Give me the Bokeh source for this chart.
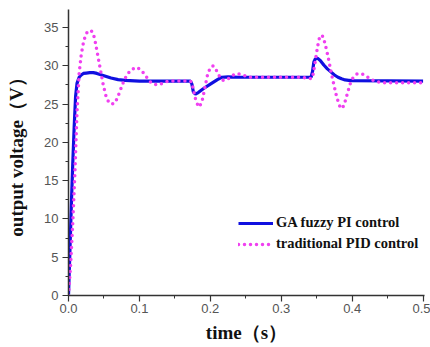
from bokeh.plotting import figure
from bokeh.models import Range1d, SingleIntervalTicker, NumeralTickFormatter, Legend, LegendItem
from bokeh.embed import file_html
from bokeh.resources import INLINE

# GA fuzzy PI control
t_ga = [0, 0.002, 0.004, 0.006, 0.008, 0.010, 0.012, 0.015, 0.018, 0.021, 0.025, 0.030,
        0.035, 0.040, 0.050, 0.060, 0.070, 0.080, 0.100, 0.172, 0.174, 0.176, 0.179,
        0.183, 0.190, 0.200, 0.210, 0.216, 0.225, 0.240, 0.342, 0.344, 0.346, 0.348,
        0.351, 0.355, 0.360, 0.365, 0.370, 0.375, 0.380, 0.385, 0.390, 0.395, 0.400, 0.500]
v_ga = [0, 5.8, 11.8, 17.2, 22.0, 26.0, 27.7, 28.5, 28.8, 29.0, 29.05, 29.1,
        29.1, 29.0, 28.7, 28.4, 28.2, 28.1, 28.0, 28.0, 27.6, 26.6, 26.3,
        26.5, 27.0, 27.6, 28.2, 28.5, 28.55, 28.5, 28.5, 29.2, 30.5, 30.9,
        31.0, 30.7, 30.1, 29.6, 29.2, 28.8, 28.5, 28.3, 28.15, 28.1, 28.05, 28.0]

# traditional PID control
t_pid = [0, 0.003, 0.006, 0.009, 0.012, 0.015, 0.018, 0.021, 0.024, 0.027, 0.032, 0.035,
         0.038, 0.041, 0.045, 0.049, 0.053, 0.057, 0.061, 0.065, 0.069, 0.073, 0.078,
         0.083, 0.089, 0.095, 0.102, 0.108, 0.114, 0.120, 0.126, 0.132, 0.140, 0.172,
         0.174, 0.177, 0.180, 0.184, 0.188, 0.192, 0.196, 0.200, 0.204, 0.208, 0.213,
         0.218, 0.224, 0.230, 0.238, 0.246, 0.255, 0.330, 0.340, 0.344, 0.347, 0.350,
         0.353, 0.356, 0.359, 0.362, 0.366, 0.370, 0.374, 0.378, 0.382, 0.386, 0.389,
         0.393, 0.397, 0.401, 0.406, 0.412, 0.418, 0.425, 0.432, 0.440, 0.500]
v_pid = [0, 4.0, 9.5, 16.0, 24.0, 29.0, 31.5, 33.0, 34.0, 34.5, 34.6, 34.2,
         33.0, 31.5, 29.5, 27.5, 26.0, 25.2, 25.0, 25.1, 25.8, 26.8, 28.0,
         28.9, 29.5, 29.8, 29.5, 28.8, 28.0, 27.6, 27.5, 27.7, 28.0, 28.0,
         27.8, 26.5, 25.3, 24.6, 25.2, 27.0, 28.8, 29.8, 30.0, 29.5, 28.6,
         28.1, 28.2, 28.7, 29.0, 28.8, 28.5, 28.5, 28.3, 28.4, 30.0, 31.8,
         33.4, 34.0, 33.8, 32.8, 31.2, 29.3, 27.6, 26.0, 24.8, 24.4, 25.0,
         26.3, 27.6, 28.4, 28.9, 29.0, 28.8, 28.3, 28.0, 27.8, 27.8]

p = figure(width=430, height=347, output_backend="svg", toolbar_location=None,
           x_range=Range1d(0, 0.502), y_range=Range1d(0, 37.35),
           min_border_left=68, min_border_right=6, min_border_top=9, min_border_bottom=52)
p.outline_line_color = None
p.xgrid.visible = False
p.ygrid.visible = False

r1 = p.line(t_ga, v_ga, line_color="#1010e0", line_width=3.2)
r2 = p.line(t_pid, v_pid, line_color="#f040f0", line_width=3.5, line_dash="0 6", line_cap="round")

for ax in (p.xaxis[0], p.yaxis[0]):
    ax.axis_line_color = "#333333"
    ax.axis_line_width = 1.5
    ax.major_tick_line_color = "#333333"
    ax.minor_tick_line_color = "#333333"
    ax.major_tick_line_width = 1.2
    ax.minor_tick_line_width = 1
    ax.major_tick_out = 6
    ax.major_tick_in = 0
    ax.minor_tick_out = 3
    ax.minor_tick_in = 0
    ax.major_label_text_font = "Liberation Sans"
    ax.major_label_text_font_size = "13px"
    ax.major_label_text_color = "#555555"
    ax.axis_label_text_font = "Liberation Serif"
    ax.axis_label_text_font_style = "bold"
    ax.axis_label_text_font_size = "19px"
    ax.axis_label_text_color = "#111111"

p.xaxis[0].ticker = SingleIntervalTicker(interval=0.1, num_minor_ticks=2)
p.xaxis[0].formatter = NumeralTickFormatter(format="0.0")
p.xaxis[0].axis_label = "time（s）"
p.xaxis[0].major_label_standoff = 2
p.xaxis[0].axis_label_standoff = 6
p.yaxis[0].ticker = SingleIntervalTicker(interval=5, num_minor_ticks=2)
p.yaxis[0].axis_label = "output voltage（V）"
p.yaxis[0].major_label_standoff = 4
p.yaxis[0].axis_label_standoff = 14

legend = Legend(items=[LegendItem(label="GA fuzzy PI control", renderers=[r1]),
                       LegendItem(label="traditional PID control", renderers=[r2])],
                location=(170, 43), padding=0, margin=0, spacing=4,
                glyph_width=35, glyph_height=16, label_height=16, label_standoff=3,
                border_line_color=None, background_fill_alpha=0,
                label_text_font="Liberation Serif", label_text_font_style="bold",
                label_text_font_size="14.5px", label_text_color="#111111")
p.add_layout(legend)

open("out.html", "w").write(file_html(p, INLINE))
